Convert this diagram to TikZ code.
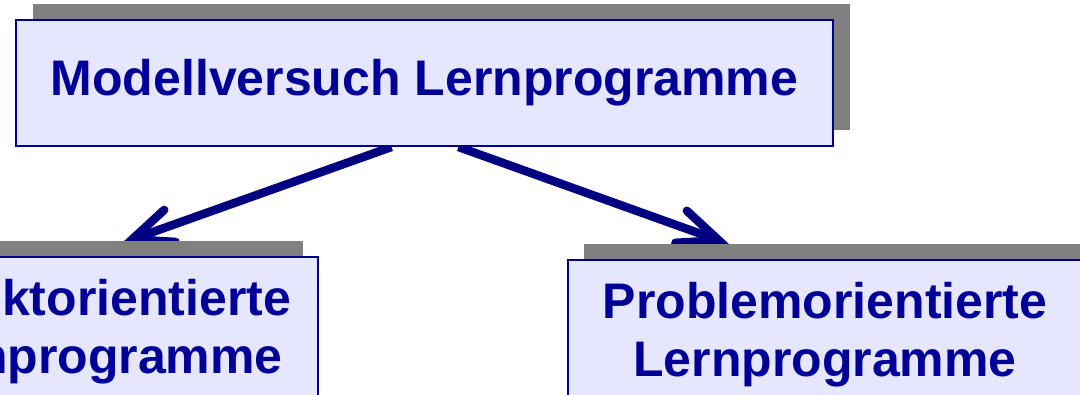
\documentclass[tikz,border=0pt]{standalone}
\usepackage{fontspec}
\setmainfont{Liberation Sans}
\usetikzlibrary{arrows.meta,shadows,calc,backgrounds}
\definecolor{boxfill}{RGB}{230,230,255}
\definecolor{boxline}{RGB}{0,0,140}
\definecolor{txtblue}{RGB}{0,0,153}
\definecolor{arrblue}{RGB}{0,0,128}
\definecolor{shadowgray}{RGB}{128,128,128}
\begin{document}
\begin{tikzpicture}[x=1pt,y=1pt,
  box/.style={draw=boxline, line width=2pt, fill=boxfill, text=txtblue,
    font=\bfseries\fontsize{50}{58}\selectfont, align=center, inner sep=0pt,
    drop shadow={shadow xshift=#1pt, shadow yshift=16pt, fill=shadowgray, opacity=1}},
  box/.default=17,
  conn/.style={draw=arrblue, line width=8.5pt,
    -{Straight Barb[length=40pt,width=34pt,line cap=round,line join=miter]}}]
\useasboundingbox (0,0) rectangle (1080,395);
\clip (0,0) rectangle (1080,395);
\node[box, minimum width=817pt, minimum height=126pt] (top) at (424.5,312) {Modellversuch Lernprogramme};
\node[box=-15, minimum width=454pt, minimum height=150pt] (left) at (91,63) {Objektorientierte\\Lernprogramme};
\node[box=16, minimum width=514pt, minimum height=150pt] (right) at (825,60) {Problemorientierte\\Lernprogramme};
\begin{scope}[on background layer]
\draw[conn] ($(top.south)+(-33,0)$) -- ($(left.north)+(31,13)$);
\draw[conn] ($(top.south)+(34,0)$) -- ($(right.north)+(-96,15)$);
\end{scope}
\end{tikzpicture}
\end{document}
